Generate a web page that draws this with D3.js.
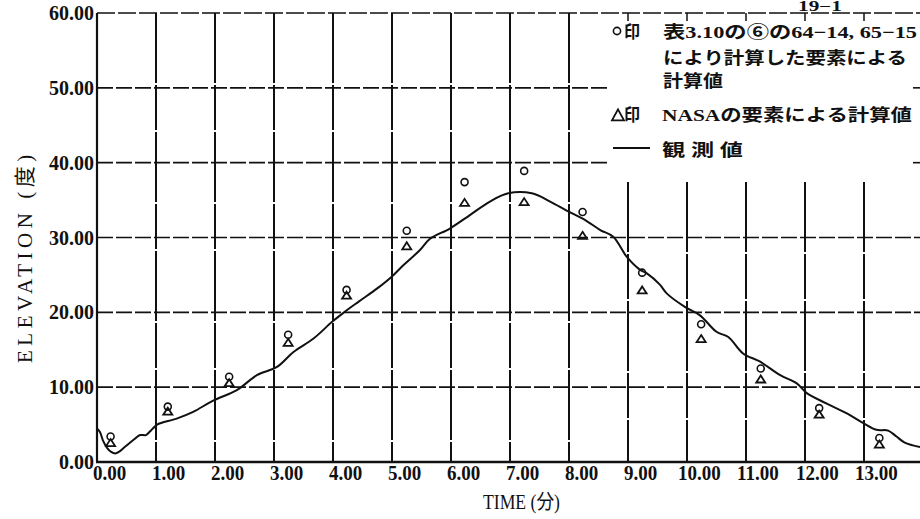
<!DOCTYPE html>
<html>
<head>
<meta charset="utf-8">
<script src="https://cdn.jsdelivr.net/npm/d3@7"></script>
<style>
  body { margin: 0; background: #fff; }
  svg { display: block; background: #fff; }
</style>
</head>
<body>
<svg id="chart" width="920" height="519"></svg>
<script>
// ---- data ----
const xTicks = [0, 1, 2, 3, 4, 5, 6, 7, 8, 9, 10, 11, 12, 13];
const xTickLabels = ["0.00", "1.00", "2.00", "3.00", "4.00", "5.00", "6.00",
                     "7.00", "8.00", "9.00", "10.00", "11.00", "12.00", "13.00"];
const yTicks = [0, 10, 20, 30, 40, 50, 60];
const yTickLabels = ["0.00", "10.00", "20.00", "30.00", "40.00", "50.00", "60.00"];

// observed elevation (solid curve)
const observedTime = [0.00, 0.05, 0.10, 0.17, 0.24, 0.31, 0.37, 0.47, 0.61, 0.73, 0.83, 0.90, 0.95, 1.02,
                      1.35, 1.63, 1.97, 2.37, 2.71, 3.05, 3.33, 3.67, 3.98, 4.17, 4.43, 4.75, 5.00, 5.14, 5.47,
                      5.64, 5.98, 6.32, 6.66, 6.97, 7.37, 7.68, 7.96, 8.30, 8.53, 8.75, 8.98, 9.20, 9.32,
                      9.54, 9.66, 9.97, 10.22, 10.50, 10.70, 10.95, 11.24, 11.58, 11.86, 12.03, 12.37,
                      12.71, 12.99, 13.21, 13.41, 13.55, 13.69, 13.95];
const observedElev = [4.5, 4.0, 2.9, 1.9, 1.35, 1.15, 1.35, 2.0, 2.9, 3.6, 3.6, 4.1, 4.5, 5.0,
                      5.8, 6.7, 8.2, 9.6, 11.6, 12.7, 14.7, 16.5, 18.7, 19.9, 21.4, 23.2, 24.8, 25.9, 28.3,
                      29.8, 31.2, 33.0, 34.8, 35.9, 35.9, 34.8, 33.6, 32.2, 31.0, 30.1, 27.4, 25.7, 25.2,
                      23.7, 22.5, 20.7, 19.6, 17.4, 16.7, 14.5, 13.4, 11.6, 10.5, 9.2, 7.8,
                      6.5, 5.2, 4.3, 4.2, 3.4, 2.6, 2.0];

// computed elevations
const calcTime = [0.23, 1.20, 2.24, 3.24, 4.23, 5.25, 6.23, 7.24, 8.23, 9.24, 10.24, 11.25, 12.24, 13.26];
const circleElev = [3.4, 7.4, 11.4, 17.0, 23.0, 30.9, 37.4, 38.9, 33.4, 25.3, 18.4, 12.5, 7.2, 3.2];
const triangleElev = [2.5, 6.7, 10.5, 15.9, 22.2, 28.8, 34.6, 34.7, 30.2, 22.9, 16.4, 11.0, 6.3, 2.3];

// legend text
const legendLines = [
  "表3.10の⑥の64−14, 65−15",
  "により計算した要素による",
  "計算値",
  "NASAの要素による計算値",
  "観 測 値"
];
const legendMark = "印";
const figureTitle = "19−1";
const xTitle = "TIME (分)";
const yTitle = "ELEVATION (度)";

// ---- drawing ----
const svg = d3.select("#chart");
const ink = "#111";
const serif = "'Liberation Serif', 'Times New Roman', 'Noto Sans CJK JP', serif";
const mixed = "'Liberation Serif', 'Noto Sans CJK JP', serif";

const x = d3.scaleLinear().domain([0, 14]).range([97, 923]);
const y = d3.scaleLinear().domain([0, 60]).range([462, 13]);

// legend block interrupts the upper grid
const legendGapT = [8.68, 13.83];
const legendBottomV = 37.4;

const grid = svg.append("g").attr("stroke", ink).attr("fill", "none");

// horizontal grid lines
yTicks.filter(v => v > 0 && v < 60).forEach(v => {
  const segs = (v > legendBottomV) ? [[0, legendGapT[0]], [legendGapT[1], 14]] : [[0, 14]];
  segs.forEach(s => {
    grid.append("line")
      .attr("x1", x(s[0])).attr("x2", x(s[1]))
      .attr("y1", y(v)).attr("y2", y(v))
      .attr("stroke-width", 1.6)
      .attr("stroke-dasharray", "16,3");
  });
});

// vertical grid lines
xTicks.filter(t => t > 0).forEach(t => {
  const top = (t > legendGapT[0]) ? legendBottomV : 60;
  grid.append("line")
    .attr("x1", x(t)).attr("x2", x(t))
    .attr("y1", y(top)).attr("y2", y(0))
    .attr("stroke-width", 2)
    .attr("stroke-dasharray", "70,2,45,2");
  if (t > legendGapT[0]) {
    grid.append("line")
      .attr("x1", x(t)).attr("x2", x(t))
      .attr("y1", y(60)).attr("y2", y(60) + 8)
      .attr("stroke-width", 1.5);
  }
});

// frame: top (dashed), left and bottom axes (solid)
grid.append("line")
  .attr("x1", x(0)).attr("x2", x(14)).attr("y1", y(60)).attr("y2", y(60))
  .attr("stroke-width", 1.5).attr("stroke-dasharray", "18,3");
grid.append("line")
  .attr("x1", x(0)).attr("x2", x(0)).attr("y1", y(60)).attr("y2", y(0))
  .attr("stroke-width", 2.2);
grid.append("line")
  .attr("x1", x(0) - 1).attr("x2", x(14)).attr("y1", y(0)).attr("y2", y(0))
  .attr("stroke-width", 2.6);

// tick labels
const xl = svg.append("g")
  .attr("font-family", serif).attr("font-weight", "bold").attr("font-size", 19).attr("fill", ink);
xTicks.forEach((t, i) => {
  const lab = xTickLabels[i];
  const x0 = x(t) - (lab.length > 4 ? 9 : 4);
  xl.append("text")
    .attr("transform", `translate(${x0},${y(0) + 18}) scale(1,1.15)`)
    .text(lab);
});

const yl = svg.append("g")
  .attr("font-family", serif).attr("font-weight", "bold").attr("font-size", 20)
  .attr("fill", ink).attr("text-anchor", "end");
yTicks.forEach((v, i) => {
  yl.append("text")
    .attr("x", x(0) - 3).attr("y", y(v) + 7)
    .text(yTickLabels[i]);
});

// axis titles
svg.append("text")
  .attr("x", 483).attr("y", 509)
  .attr("font-family", mixed).attr("font-size", 20).attr("fill", ink)
  .attr("textLength", 77).attr("lengthAdjust", "spacingAndGlyphs")
  .text(xTitle);

svg.append("text")
  .attr("transform", "translate(32,363) rotate(-90)")
  .attr("font-family", mixed).attr("font-size", 21).attr("fill", ink)
  .attr("letter-spacing", 4.5)
  .text(yTitle);

// figure number at top
svg.append("text")
  .attr("x", 798).attr("y", 11)
  .attr("font-family", serif).attr("font-weight", "bold").attr("font-size", 14).attr("fill", ink)
  .attr("textLength", 44).attr("lengthAdjust", "spacingAndGlyphs")
  .text(figureTitle);

// observed curve
const obs = observedTime.map((t, i) => [t, observedElev[i]]);
svg.append("path")
  .datum(obs)
  .attr("fill", "none").attr("stroke", ink).attr("stroke-width", 2)
  .attr("stroke-linejoin", "round")
  .attr("d", d3.line().x(d => x(d[0])).y(d => y(d[1])).curve(d3.curveCatmullRom.alpha(0.5)));

// marker shapes
const triPath = (w, h) => `M0,${-h * 0.6}L${w / 2},${h * 0.4}L${-w / 2},${h * 0.4}Z`;

const marks = svg.append("g").attr("fill", "none").attr("stroke", ink);
calcTime.forEach((t, i) => {
  marks.append("circle")
    .attr("cx", x(t)).attr("cy", y(circleElev[i])).attr("r", 3.5)
    .attr("stroke-width", 1.6);
  marks.append("path")
    .attr("transform", `translate(${x(t)},${y(triangleElev[i])})`)
    .attr("d", triPath(9, 7))
    .attr("stroke-width", 1.8).attr("stroke-linejoin", "miter");
});

// legend
const lg = svg.append("g").attr("fill", ink);
lg.append("circle").attr("cx", 617).attr("cy", 31).attr("r", 3.6)
  .attr("fill", "none").attr("stroke", ink).attr("stroke-width", 1.6);
lg.append("path").attr("transform", "translate(618,116)").attr("d", triPath(12, 11))
  .attr("fill", "none").attr("stroke", ink).attr("stroke-width", 1.8);
lg.append("line").attr("x1", 613).attr("x2", 650).attr("y1", 148).attr("y2", 148)
  .attr("stroke", ink).attr("stroke-width", 2);

const legendText = (str, x0, base, w) =>
  lg.append("text")
    .attr("x", x0).attr("y", base)
    .attr("font-family", mixed).attr("font-weight", "bold").attr("font-size", 17)
    .attr("textLength", w).attr("lengthAdjust", "spacingAndGlyphs")
    .text(str);

legendText(legendMark, 624, 38, 16);
legendText(legendMark, 624, 121, 16);
legendText(legendLines[0], 663, 38, 254);
legendText(legendLines[1], 663, 64, 244);
legendText(legendLines[2], 663, 87, 60);
legendText(legendLines[3], 662, 121, 250);
legendText(legendLines[4], 662, 156, 81);
</script>
</body>
</html>
